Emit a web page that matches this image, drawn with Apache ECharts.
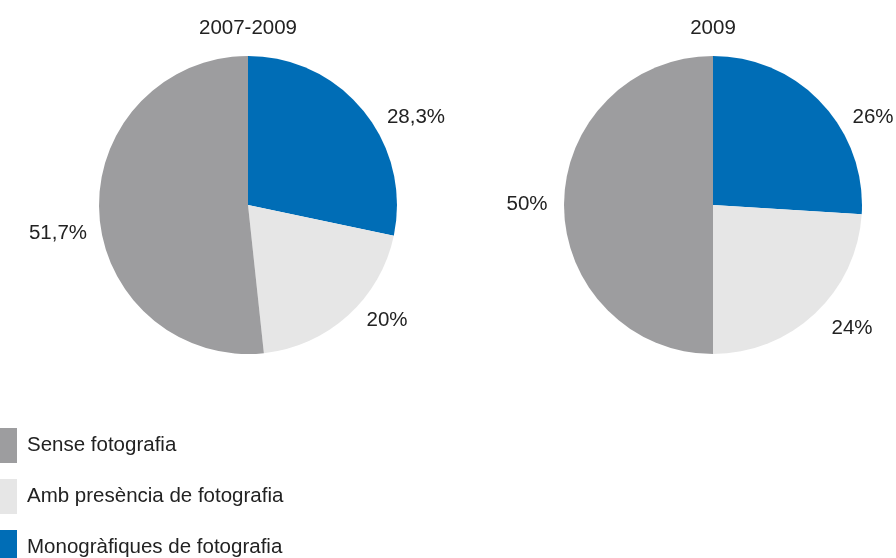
<!DOCTYPE html>
<html>
<head>
<meta charset="utf-8">
<script src="https://cdn.jsdelivr.net/npm/echarts@6/dist/echarts.min.js"></script>
<style>
  html, body { margin: 0; padding: 0; background: #ffffff; }
  #chart { width: 896px; height: 558px; }
</style>
</head>
<body>
<div id="chart"></div>
<script>
// Categories, in legend order
const categories = ['Sense fotografia', 'Amb presència de fotografia', 'Monogràfiques de fotografia'];
// Pie titles
const periods = ['2007-2009', '2009'];
// Shares (%) per category, same order as categories
const shares20072009 = [51.7, 20, 28.3];
const shares2009 = [50, 24, 26];

const colors = {
  'Sense fotografia': '#9d9d9f',
  'Amb presència de fotografia': '#e6e6e6',
  'Monogràfiques de fotografia': '#006db6'
};

// Slices drawn clockwise from 12 o'clock: blue, light grey, grey
const drawOrder = [2, 1, 0];

// Label offsets from each pie's centre, keyed by drawn slice index
const labelOffsets = [
  [[168, -88], [139, 115], [-190, 28]],
  [[160, -88], [139, 123], [-186, -1]]
];

const centers = [[248, 205], [713, 205]];
const radius = 149;
const font = 'Liberation Sans';
const fontSize = 20.5;

function fmt(v) {
  return String(v).replace('.', ',') + '%';
}

function buildSeries(idx, values) {
  return {
    type: 'pie',
    name: periods[idx],
    center: centers[idx],
    radius: radius,
    startAngle: 90,
    clockwise: true,
    silent: true,
    animation: false,
    data: drawOrder.map(i => ({
      name: categories[i],
      value: values[i],
      itemStyle: { color: colors[categories[i]] }
    })),
    label: {
      show: true,
      position: 'outside',
      alignTo: 'none',
      overflow: 'none',
      width: 100,
      formatter: p => fmt(p.value),
      fontFamily: font,
      fontSize: fontSize,
      color: '#222222'
    },
    labelLine: { show: false },
    labelLayout: p => {
      const off = labelOffsets[idx][p.dataIndex];
      return {
        x: centers[idx][0] + off[0],
        y: centers[idx][1] + off[1],
        align: 'center',
        verticalAlign: 'middle'
      };
    }
  };
}

// One single-item legend per category, stacked down the left edge
const legendTops = [428, 479, 530];

const chart = echarts.init(document.getElementById('chart'), null, { renderer: 'canvas' });
chart.setOption({
  backgroundColor: '#ffffff',
  title: periods.map((t, i) => ({
    text: t,
    left: centers[i][0],
    top: 18,
    padding: 0,
    textAlign: 'center',
    textStyle: { fontFamily: font, fontSize: fontSize, fontWeight: 'normal', color: '#222222' }
  })),
  legend: categories.map((c, i) => ({
    orient: 'vertical',
    left: 0,
    top: legendTops[i],
    padding: 0,
    itemWidth: 17,
    itemHeight: 35,
    icon: 'rect',
    selectedMode: false,
    data: [c],
    textStyle: {
      fontFamily: font,
      fontSize: fontSize,
      color: '#222222',
      padding: [2, 0, 0, 5]
    }
  })),
  series: [buildSeries(0, shares20072009), buildSeries(1, shares2009)]
});
</script>
</body>
</html>
